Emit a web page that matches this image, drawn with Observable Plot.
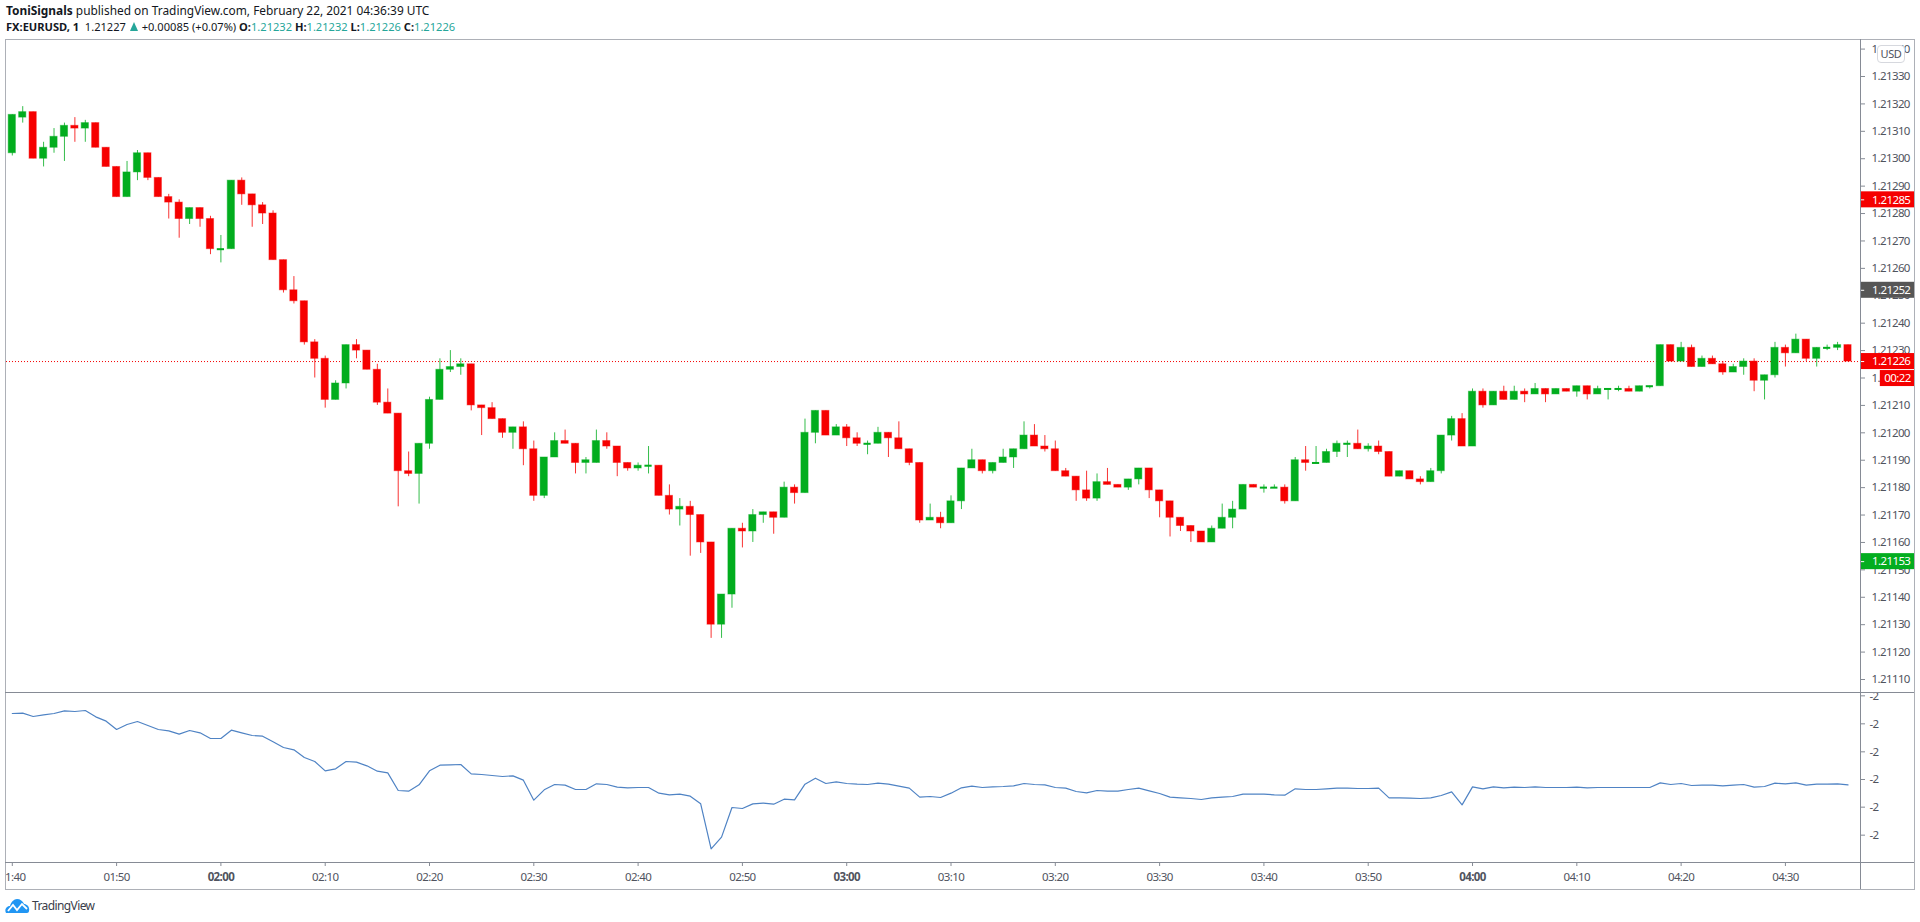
<!DOCTYPE html>
<html>
<head>
<meta charset="utf-8">
<script src="https://cdn.jsdelivr.net/npm/d3@7"></script>
<script src="https://cdn.jsdelivr.net/npm/@observablehq/plot@0.6"></script>
<style>
html,body{margin:0;padding:0;background:#fff;overflow:hidden}
#root{position:relative;width:1920px;height:922px;overflow:hidden;font-family:"Noto Sans",sans-serif;color:#131722}
.hdr{position:absolute;left:6px;white-space:nowrap;line-height:15px}
.hdr b{font-weight:700}
.hdr i{font-style:normal;color:#26a69a}
.tri{display:inline-block;width:0;height:0;border-left:4.5px solid transparent;border-right:4.5px solid transparent;border-bottom:9px solid #26a69a;margin:0 1px}
.pane{position:absolute;left:6px}
.pane svg text{letter-spacing:-.6px}
.ln{position:absolute;background:#868b95}
#frame{position:absolute;left:5px;top:38.5px;width:1908px;height:849.5px;border:1.5px solid #adb0b7;box-sizing:content-box;pointer-events:none}
#usd{position:absolute;left:1877px;top:45px;width:26px;height:16px;background:#fff;border:1px solid #d6d8de;border-radius:4px;font-size:11px;line-height:16px;text-align:center;color:#50535e;letter-spacing:-.3px}
#logo{position:absolute;left:5px;top:897px;display:flex;align-items:center;gap:2px;font-size:12px;letter-spacing:-.6px;color:#3a3e4a}
</style>
</head>
<body>
<div id="root">
  <div class="hdr" style="top:3px;font-size:11.9px"><b>ToniSignals</b> published on TradingView.com, February 22, 2021 04:36:39 UTC</div>
  <div class="hdr" style="top:19px;font-size:11.1px"><b>FX:EURUSD, 1</b>&nbsp; 1.21227 <span class="tri"></span> +0.00085 (+0.07%) <b>O:</b><i>1.21232</i> <b>H:</b><i>1.21232</i> <b>L:</b><i>1.21226</i> <b>C:</b><i>1.21226</i></div>
  <div class="pane" id="price" style="top:39px"></div>
  <div class="pane" id="ind" style="top:692px"></div>
  <div id="frame"></div>
  <div class="ln" style="left:5px;top:692px;width:1909px;height:1px"></div>
  <div class="ln" style="left:5px;top:862px;width:1909px;height:1px"></div>
  <div class="ln" style="left:1860px;top:39px;width:1px;height:850px"></div>
  <div id="usd">USD</div>
  <div id="logo">
    <svg width="25" height="16" viewBox="0 0 25 16"><path d="M1 15 C-1 11 2 8 5 8 C6 4 9 1 12 1 C15 1 18 3 19 6 C22 6 25 9 24 13 C24 14 23 15 22 15 Z" fill="#2196f3"/><path d="M3 13 L8 7 L12 12 L17 6 L22 11" fill="none" stroke="#fff" stroke-width="1.8"/></svg>
    <span>TradingView</span>
  </div>
</div>
<script>
// prices in points above 1.21000
const opens=[302,315,317,300,304,308,312,311,313,304,297,286,295,302,293,286,284,278,282,278,267,267,292,287,283,280,263,252,248,233,227,212,218,232,230,223,211,207,186,185,196,212,223,224,225,210,209,205,200,202,194,177,191,197,196,189,189,197,195,189,187,188,188,177,172,173,170,160,130,141,165,164,170,171,169,180,178,200,208,199,202,198,196,196,200,198,194,189,168,169,167,175,187,190,186,189,191,194,199,195,194,186,184,179,176,182,181,180,183,187,179,175,169,166,164,160,165,169,172,181,180,180,180,175,190,189,189,193,196,196,194,195,193,184,186,183,182,186,199,205,195,215,210,215,212,215,214,216,214,216,215,217,214,216,216,216,215,217,217,232,226,231,224,227,225,222,224,226,219,221,231,229,234,227,231,231,232];
const highs=[316,319,317,306,311,313,315,314,313,304,297,299,303,302,293,287,285,282,282,279,272,292,293,287,284,281,263,257,248,234,228,219,232,234,230,225,216,207,193,196,213,227,230,227,225,210,211,205,202,204,197,191,200,201,196,191,201,200,195,189,189,195,188,181,176,175,170,160,141,165,167,172,171,171,182,181,205,208,208,203,203,200,197,202,200,204,194,189,174,171,177,187,194,190,189,194,194,204,203,199,197,187,184,186,185,187,181,183,187,187,179,175,169,166,164,166,174,175,181,181,181,181,181,191,195,195,194,197,197,201,196,197,193,186,186,184,187,199,206,207,216,216,215,217,217,216,218,216,216,216,217,217,217,216,217,217,217,217,232,232,233,232,228,228,226,225,227,227,221,233,232,236,234,231,232,233,232];
const lows=[301,313,300,297,302,299,306,306,304,297,286,286,292,292,286,278,271,276,275,265,262,267,283,275,276,263,251,247,232,220,209,212,216,227,223,210,207,173,184,174,194,212,222,221,208,199,205,198,194,188,175,176,191,196,185,185,189,194,184,186,186,185,177,170,166,155,156,125,125,136,158,160,167,163,169,174,178,196,199,199,195,195,192,196,191,194,188,167,168,165,167,172,187,185,185,189,187,194,195,193,186,184,175,175,175,181,180,179,181,176,169,162,164,160,160,160,165,165,172,180,178,180,174,175,186,189,189,191,191,194,193,192,184,184,183,181,182,185,197,195,195,209,210,212,212,211,214,211,214,215,213,212,214,212,215,215,215,216,217,226,226,224,224,225,221,222,221,215,212,220,224,229,226,224,230,230,226];
const closes=[316,317,300,304,308,312,311,313,304,297,286,295,302,293,286,284,278,282,278,267,267,292,287,283,280,263,252,248,233,227,212,218,232,230,223,211,207,186,185,196,212,223,224,225,210,209,205,200,202,194,177,191,197,196,189,190,197,195,189,187,188,188,177,172,173,170,160,130,141,165,164,170,171,169,180,178,200,208,199,202,198,196,196,200,198,194,189,168,169,167,175,187,190,186,189,191,194,199,195,194,186,184,179,176,182,181,180,183,187,179,175,169,166,164,160,165,169,172,181,180,180,180,175,190,189,189,193,196,196,194,195,193,184,186,183,182,186,199,205,195,215,210,215,212,215,214,216,214,216,215,217,214,216,216,216,215,217,217,232,226,231,224,227,225,222,224,226,219,221,231,229,234,227,231,231,232,226];
// lower pane series
const indicator=[-1.599,-1.598,-1.608,-1.603,-1.599,-1.591,-1.593,-1.590,-1.609,-1.622,-1.647,-1.632,-1.623,-1.635,-1.647,-1.651,-1.661,-1.650,-1.657,-1.674,-1.674,-1.649,-1.657,-1.665,-1.667,-1.684,-1.701,-1.708,-1.731,-1.743,-1.771,-1.765,-1.743,-1.745,-1.756,-1.772,-1.777,-1.830,-1.832,-1.813,-1.771,-1.754,-1.753,-1.752,-1.780,-1.782,-1.785,-1.788,-1.786,-1.799,-1.859,-1.828,-1.812,-1.814,-1.827,-1.827,-1.810,-1.812,-1.820,-1.822,-1.821,-1.821,-1.838,-1.843,-1.841,-1.847,-1.870,-2.005,-1.970,-1.881,-1.884,-1.870,-1.868,-1.871,-1.856,-1.858,-1.811,-1.793,-1.809,-1.804,-1.809,-1.811,-1.812,-1.808,-1.811,-1.817,-1.823,-1.850,-1.848,-1.851,-1.838,-1.822,-1.817,-1.821,-1.819,-1.818,-1.816,-1.809,-1.812,-1.813,-1.821,-1.823,-1.833,-1.837,-1.830,-1.832,-1.832,-1.827,-1.823,-1.831,-1.839,-1.850,-1.852,-1.854,-1.857,-1.852,-1.850,-1.848,-1.841,-1.841,-1.841,-1.843,-1.844,-1.825,-1.827,-1.827,-1.825,-1.823,-1.823,-1.824,-1.824,-1.823,-1.852,-1.852,-1.853,-1.854,-1.852,-1.845,-1.834,-1.873,-1.819,-1.825,-1.819,-1.822,-1.820,-1.821,-1.819,-1.821,-1.821,-1.821,-1.820,-1.822,-1.821,-1.821,-1.821,-1.821,-1.821,-1.821,-1.807,-1.812,-1.809,-1.815,-1.814,-1.814,-1.816,-1.814,-1.812,-1.820,-1.818,-1.808,-1.810,-1.807,-1.814,-1.811,-1.811,-1.810,-1.813];
const priceTicks=[1.2134,1.2133,1.2132,1.2131,1.213,1.2129,1.2128,1.2127,1.2126,1.2125,1.2124,1.2123,1.2122,1.2121,1.212,1.2119,1.2118,1.2117,1.2116,1.2115,1.2114,1.2113,1.2112,1.2111];
const indicatorTicks=[-1.546,-1.63,-1.714,-1.797,-1.88,-1.964];
const timeTicks=[0,10,30,40,50,60,70,90,100,110,120,130,150,160,170];
const hourTicks=[20,80,140];
const tagPrices=[1.21285,1.21252,1.21226,1.21153];
const tagColors=["#f50000","#565656","#f50000","#03ad1f"];
const countdownLabel="00:22";
const countdownLevel=1.212198;
const lastPrice=1.21226;
const up="#02ad1e",down="#f60000";
const font='"Noto Sans",sans-serif',tickColor="#50535e";

const t0=Date.UTC(2021,1,22,1,40);
const t=i=>new Date(t0+i*60000);
const p=n=>1.21+n/1e5;
const candles=opens.map((o,i)=>({i,open:p(o),high:p(highs[i]),low:p(lows[i]),close:p(closes[i]),color:closes[i]>=o?up:down}));
const timeLabel=m=>d3.utcFormat("%H:%M")(m);
const xScale={type:"utc",domain:[t(0),t(176)],range:[5.8,1841.5],axis:null};
const halfTag=2.92e-5;
const axisL=177.2,axisR=182.4;

const price=Plot.plot({
  width:1908,height:653,marginTop:0,marginBottom:0,marginLeft:0,marginRight:54,
  style:{fontFamily:font,background:"transparent"},
  x:xScale,
  y:{domain:[1.2133,1.2111],range:[37,640],axis:null},
  color:{type:"identity"},
  marks:[
    Plot.axisY(priceTicks,{anchor:"right",tickSize:4,tickPadding:7,fontSize:11.5,tickFormat:d3.format(".5f"),stroke:"#868b95",fill:tickColor,label:null}),
    Plot.ruleY([lastPrice],{stroke:"#f60000",strokeWidth:1,strokeDasharray:"1 2"}),
    Plot.ruleX(candles,{x:d=>t(d.i),y1:"low",y2:"high",stroke:"color",strokeWidth:1,strokeOpacity:0.8}),
    Plot.rect(candles,{x1:d=>t(d.i-0.345),x2:d=>t(d.i+0.345),y1:"open",y2:"close",fill:"color",stroke:"color",strokeWidth:1,strokeOpacity:0.45}),
    Plot.ruleY(candles.filter(d=>d.open===d.close),{y:"close",x1:d=>t(d.i-0.345),x2:d=>t(d.i+0.345),stroke:"color",strokeWidth:2}),
    Plot.rect(tagPrices,{x1:t(axisL),x2:t(axisR),y1:d=>d+halfTag,y2:d=>d-halfTag,fill:(d,i)=>tagColors[i]}),
    Plot.rect([countdownLevel],{x1:t(179.1),x2:t(axisR),y1:d=>d+halfTag,y2:d=>d-halfTag,fill:tagColors[2]}),
    Plot.ruleY(tagPrices,{x1:t(axisL),x2:t(177.6),stroke:"#fff"}),
    Plot.text(tagPrices,{x:t(178.3),y:d=>d,text:d3.format(".5f"),textAnchor:"start",fill:"#fff",fontSize:11.5}),
    Plot.text([countdownLevel],{x:t(180.75),y:d=>d,text:()=>countdownLabel,fill:"#fff",fontSize:11.5})
  ]
});
document.getElementById("price").append(price);

const ind=Plot.plot({
  width:1908,height:197,marginTop:0,marginBottom:27,marginLeft:0,marginRight:54,
  style:{fontFamily:font,background:"transparent"},
  x:xScale,
  y:{domain:[-1.5,-2.0],range:[-12,154.67],axis:null},
  marks:[
    Plot.axisY(indicatorTicks,{anchor:"right",tickSize:4,tickPadding:5,fontSize:11.5,tickFormat:d=>String(Math.round(d)),stroke:"#868b95",fill:tickColor,label:null}),
    Plot.axisX(timeTicks.map(t),{anchor:"bottom",tickSize:4,tickPadding:6,fontSize:11.5,tickFormat:timeLabel,stroke:"#868b95",fill:tickColor,label:null}),
    Plot.axisX(hourTicks.map(t),{anchor:"bottom",tickSize:4,tickPadding:6,fontSize:11.5,fontWeight:700,tickFormat:timeLabel,stroke:"#868b95",fill:tickColor,label:null}),
    Plot.line(indicator,{x:(d,i)=>t(i),y:d=>d,stroke:"#4f83c4",strokeWidth:1.2,curve:"linear"})
  ]
});
document.getElementById("ind").append(ind);
</script>
</body>
</html>
